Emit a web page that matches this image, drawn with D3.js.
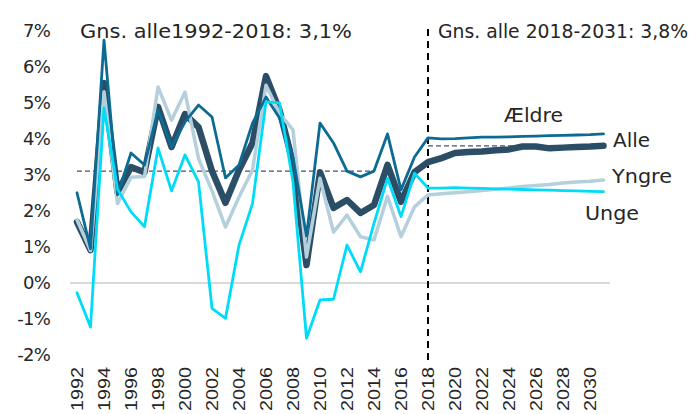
<!DOCTYPE html>
<html>
<head>
<meta charset="utf-8">
<script src="https://cdn.jsdelivr.net/npm/d3@7"></script>
<style>
  html, body { margin: 0; padding: 0; background: #fff; }
  svg { display: block; font-family: "DejaVu Sans", "Noto Sans", sans-serif; }
</style>
</head>
<body>
<svg id="chart" width="690" height="414"></svg>
<script>
// Years on the x axis (history 1992-2018, projection 2019-2031)
const years = d3.range(1992, 2032);

// Annual growth in percent per group
const aeldre = [2.50, 0.95, 6.73, 2.44, 3.60, 3.27, 4.79, 3.77, 4.46, 4.93,
                4.60, 2.91, 3.27, 4.43, 5.15, 4.57, 3.49, 1.30, 4.43, 3.88,
                3.10, 2.94, 3.10, 4.13, 2.58, 3.49, 4.02,
                3.99, 4.00, 4.02, 4.04, 4.04, 4.05, 4.06, 4.07, 4.08, 4.09, 4.10, 4.11, 4.13];
const alle   = [1.69, 0.91, 5.54, 2.52, 3.21, 3.07, 4.88, 3.77, 4.68, 4.32,
                3.10, 2.22, 3.13, 3.88, 5.73, 4.79, 3.32, 0.50, 3.07, 2.08,
                2.30, 1.94, 2.16, 3.27, 2.25, 3.07, 3.35,
                3.46, 3.60, 3.63, 3.64, 3.68, 3.70, 3.78, 3.78, 3.73, 3.75, 3.77, 3.78, 3.80];
const yngre  = [1.75, 0.90, 5.30, 2.20, 2.93, 2.95, 5.43, 4.51, 5.29, 3.45,
                2.55, 1.55, 2.38, 3.13, 5.48, 4.70, 4.24, 0.72, 2.90, 1.41,
                1.88, 1.28, 1.19, 2.40, 1.28, 2.11, 2.44,
                2.47, 2.50, 2.53, 2.56, 2.60, 2.63, 2.67, 2.70, 2.73, 2.77, 2.80, 2.82, 2.85];
const unge   = [-0.27, -1.22, 4.85, 2.60, 1.97, 1.56, 3.74, 2.55, 3.55, 2.80,
                -0.70, -0.98, 1.05, 2.20, 5.02, 4.99, 2.80, -1.53, -0.47, -0.45,
                1.05, 0.31, 1.65, 2.90, 1.84, 3.04, 2.63,
                2.63, 2.64, 2.63, 2.62, 2.61, 2.60, 2.59, 2.58, 2.57, 2.56, 2.55, 2.54, 2.53];

// Period averages for "Alle"
const avgPeriods = [
  { label: "Gns. alle1992-2018: 3,1%",  from: 1992, to: 2014, value: 3.1 },
  { label: "Gns. alle 2018-2031: 3,8%", from: 2018, to: 2031, value: 3.8 }
];

const yTicks = [-2, -1, 0, 1, 2, 3, 4, 5, 6, 7];
const xTicks = d3.range(1992, 2031, 2);
const splitYear = 2018;

const seriesLabels = ["Ældre", "Alle", "Yngre", "Unge"];

const svg = d3.select("#chart");
const textColor = "#262626";

const x = d3.scaleLinear().domain([1992, 2031]).range([77, 603.5]);
const y = d3.scaleLinear().domain([-2, 7]).range([355.2, 30.3]);

// zero line
svg.append("line")
  .attr("x1", 70).attr("x2", 610)
  .attr("y1", y(0)).attr("y2", y(0))
  .attr("stroke", "#d9d9d9").attr("stroke-width", 2);

// y axis labels
const yAxis = d3.axisLeft(y).tickValues(yTicks).tickSize(0).tickPadding(0)
  .tickFormat(d => d + "%");
const gy = svg.append("g").attr("transform", "translate(50,0)").call(yAxis);
gy.select(".domain").remove();
gy.selectAll("text").attr("font-size", 18).attr("fill", textColor)
  .attr("font-family", "DejaVu Sans").attr("letter-spacing", -0.8);

// x axis labels, rotated
const xAxis = d3.axisBottom(x).tickValues(xTicks).tickSize(0).tickFormat(d3.format("d"));
const gx = svg.append("g").attr("transform", "translate(0,367)").call(xAxis);
gx.select(".domain").remove();
gx.selectAll("text")
  .attr("font-size", 17).attr("fill", textColor)
  .attr("transform", "rotate(-90)")
  .attr("text-anchor", "end")
  .attr("dy", "0.35em").attr("x", 0).attr("y", 0)
  .attr("textLength", 44).attr("lengthAdjust", "spacingAndGlyphs");

// average dashed lines
svg.selectAll("line.avg").data(avgPeriods).join("line")
  .attr("class", "avg")
  .attr("x1", d => x(d.from)).attr("x2", d => x(d.to))
  .attr("y1", d => y(d.value)).attr("y2", d => y(d.value))
  .attr("stroke", "#44546a").attr("stroke-width", 1.2)
  .attr("stroke-dasharray", "5,3");

// vertical split between history and projection
svg.append("line")
  .attr("x1", x(splitYear)).attr("x2", x(splitYear))
  .attr("y1", 29).attr("y2", 362)
  .attr("stroke", "#000").attr("stroke-width", 2)
  .attr("stroke-dasharray", "7,5");

// series lines; drawing order keeps the thick "Alle" underneath
const line = d3.line().x((d, i) => x(years[i])).y(d => y(d)).curve(d3.curveLinear);
const series = [
  { name: "Alle",  values: alle,   color: "#2b4e66", width: 6.5 },
  { name: "Yngre", values: yngre,  color: "#b4d0dc", width: 3.5 },
  { name: "Ældre", values: aeldre, color: "#0c6b93", width: 2.8 },
  { name: "Unge",  values: unge,   color: "#00dcf8", width: 2.8 }
];
svg.selectAll("path.series").data(series).join("path")
  .attr("class", "series")
  .attr("d", d => line(d.values))
  .attr("fill", "none")
  .attr("stroke", d => d.color)
  .attr("stroke-width", d => d.width)
  .attr("stroke-linejoin", "round")
  .attr("stroke-linecap", "round");

// period average annotations
const annPos = [{ x: 80, y: 38, w: 272 }, { x: 438, y: 38, w: 250 }];
svg.selectAll("text.avgLabel").data(avgPeriods).join("text")
  .attr("class", "avgLabel")
  .attr("x", (d, i) => annPos[i].x).attr("y", (d, i) => annPos[i].y)
  .attr("font-size", 19).attr("fill", textColor)
  .attr("textLength", (d, i) => annPos[i].w).attr("lengthAdjust", "spacingAndGlyphs")
  .text(d => d.label);

// series name labels
const namePos = [
  { x: 504, y: 122, w: 59 }, { x: 613, y: 147, w: 37 },
  { x: 612, y: 183, w: 60 }, { x: 585, y: 220, w: 54 }
];
svg.selectAll("text.name").data(seriesLabels).join("text")
  .attr("class", "name")
  .attr("x", (d, i) => namePos[i].x).attr("y", (d, i) => namePos[i].y)
  .attr("font-size", 19).attr("fill", textColor)
  .attr("textLength", (d, i) => namePos[i].w).attr("lengthAdjust", "spacingAndGlyphs")
  .text(d => d);
</script>
</body>
</html>
